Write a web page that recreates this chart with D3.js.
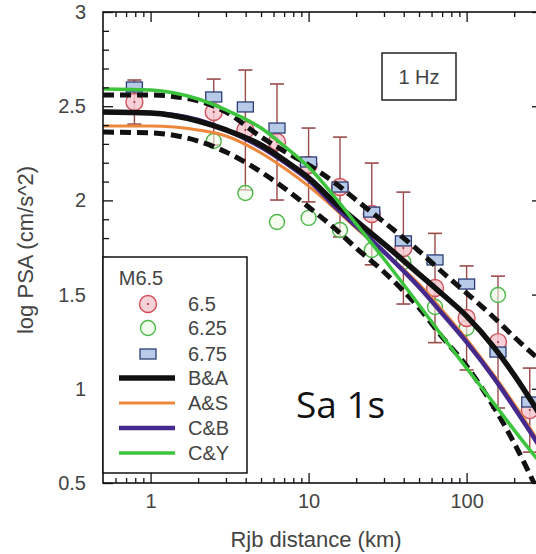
<!DOCTYPE html>
<html><head><meta charset="utf-8">
<script src="https://cdn.jsdelivr.net/npm/d3@7"></script>
<style>html,body{margin:0;padding:0;background:#fff;} svg{display:block;}</style>
</head><body>
<svg id="chart" width="536" height="554"></svg>
<script>
// ---------- data ----------
const curveDist   = [0.5, 1, 2, 3, 5, 7, 10, 15, 20, 30, 50, 70, 100, 150, 200, 300];
const baValues    = [2.469, 2.464, 2.421, 2.374, 2.294, 2.214, 2.119, 1.981, 1.891, 1.769, 1.609, 1.503, 1.386, 1.217, 1.073, 0.845];
const asValues    = [2.395, 2.395, 2.374, 2.342, 2.252, 2.172, 2.076, 1.949, 1.853, 1.726, 1.556, 1.418, 1.264, 1.068, 0.919, 0.691];
const cbValues    = [2.469, 2.464, 2.427, 2.374, 2.283, 2.204, 2.108, 1.960, 1.863, 1.727, 1.540, 1.400, 1.248, 1.054, 0.901, 0.675];
const cyValues    = [2.591, 2.586, 2.538, 2.480, 2.384, 2.289, 2.177, 2.007, 1.875, 1.689, 1.445, 1.280, 1.110, 0.919, 0.781, 0.596];
const upperValues = [2.559, 2.559, 2.528, 2.469, 2.337, 2.262, 2.188, 2.087, 2.002, 1.885, 1.731, 1.620, 1.508, 1.376, 1.275, 1.142];
const lowerValues = [2.363, 2.358, 2.315, 2.257, 2.151, 2.066, 1.965, 1.843, 1.747, 1.620, 1.429, 1.275, 1.121, 0.898, 0.712, 0.410];

const binDist     = [0.79, 2.51, 3.98, 6.31, 10, 15.8, 25.1, 39.8, 63.1, 100, 158, 251];
const m650Values  = [2.522, 2.469, 2.374, 2.310, 2.188, 2.071, 1.928, 1.747, 1.535, 1.376, 1.248, 0.887];
const m650Errors  = [0.117, 0.175, 0.318, 0.308, 0.196, 0.265, 0.270, 0.297, 0.290, 0.276, 0.350, 0.223];
const m625Values  = [null, 2.315, 2.039, 1.885, 1.907, 1.843, 1.737, 1.673, 1.434, 1.323, 1.498, null];
const m675Values  = [2.602, 2.549, 2.496, 2.384, 2.204, 2.071, 1.938, 1.785, 1.684, 1.556, 1.195, 0.930];

const xTickLabels = [1, 10, 100];
const yTickLabels = [0.5, 1, 1.5, 2, 2.5, 3];
const legendTitle = "M6.5";
const legendMarkerLabels = ["6.5", "6.25", "6.75"];
const legendLineLabels = ["B&A", "A&S", "C&B", "C&Y"];

// ---------- setup ----------
const svg = d3.select("#chart");
const L = 103, R = 542, T = 12, B = 483;
const x = d3.scaleLog().domain([0.5, 300]).range([L, R]);
const y = d3.scaleLinear().domain([0.5, 3]).range([B, T]);
const font = "'Liberation Sans', Arial, sans-serif";
const textCol = "#444";

svg.append("rect").attr("width", 536).attr("height", 554).attr("fill", "#fff");
svg.append("clipPath").attr("id", "plotclip").append("rect")
  .attr("x", L).attr("y", T).attr("width", R - L).attr("height", B - T);

// ---------- markers ----------
const errCol = "#9b4a4a";
const mk = svg.append("g").attr("clip-path", "url(#plotclip)");
binDist.forEach((d, i) => {
  const v = m650Values[i], e = m650Errors[i];
  const cx = x(d);
  mk.append("line").attr("x1", cx).attr("x2", cx).attr("y1", y(v + e)).attr("y2", y(v - e))
    .attr("stroke", errCol).attr("stroke-width", 1.4);
  [v + e, v - e].forEach(w => mk.append("line").attr("x1", cx - 7).attr("x2", cx + 7)
    .attr("y1", y(w)).attr("y2", y(w)).attr("stroke", errCol).attr("stroke-width", 1.6));
});
function pinkCircle(g, cx, cy) {
  g.append("circle").attr("cx", cx).attr("cy", cy).attr("r", 8.5)
    .attr("fill", "#f7c8d0").attr("fill-opacity", 0.85).attr("stroke", "#d0505a").attr("stroke-width", 1.4);
  g.append("circle").attr("cx", cx).attr("cy", cy).attr("r", 1).attr("fill", "#a03040");
}
function greenCircle(g, cx, cy) {
  g.append("circle").attr("cx", cx).attr("cy", cy).attr("r", 7.5)
    .attr("fill", "#eefbe8").attr("fill-opacity", 0.6).attr("stroke", "#4cb848").attr("stroke-width", 1.4);
}
function blueRect(g, cx, cy) {
  g.append("rect").attr("x", cx - 8).attr("y", cy - 5).attr("width", 16).attr("height", 10)
    .attr("fill", "#b7cbe9").attr("stroke", "#2c3d75").attr("stroke-width", 1.3);
}
binDist.forEach((d, i) => { if (m625Values[i] != null) greenCircle(mk, x(d), y(m625Values[i])); });
binDist.forEach((d, i) => pinkCircle(mk, x(d), y(m650Values[i])));
binDist.forEach((d, i) => blueRect(mk, x(d), y(m675Values[i])));

// ---------- curves ----------
const line = d3.line().x((d, i) => x(curveDist[i])).y(d => y(d)).curve(d3.curveMonotoneX);
const cg = svg.append("g").attr("clip-path", "url(#plotclip)").attr("fill", "none");
const lineStyles = [
  {vals: lowerValues, col: "#111", w: 5, dash: "11,6"},
  {vals: upperValues, col: "#111", w: 5, dash: "11,6"},
  {vals: asValues, col: "#ec873c", w: 3},
  {vals: cbValues, col: "#45298c", w: 4.5},
  {vals: baValues, col: "#111", w: 5.5},
  {vals: cyValues, col: "#3cc43c", w: 3.5}
];
lineStyles.forEach(s => cg.append("path").attr("d", line(s.vals))
  .attr("stroke", s.col).attr("stroke-width", s.w)
  .attr("stroke-dasharray", s.dash || null).attr("stroke-linecap", "butt"));

// ---------- axes ----------
const xMinor = [];
[0.1, 1, 10, 100].forEach(p => d3.range(2, 10).forEach(k => {
  const v = k * p; if (v > 0.5 && v < 300 && !xTickLabels.includes(v)) xMinor.push(v);
}));
const xMinorSet = Array.from(new Set(xMinor));
const yMinor = d3.range(6, 30).map(k => k / 10).filter(v => Math.abs(v * 2 - Math.round(v * 2)) > 1e-6);

function styleAxis(g) {
  g.select(".domain").remove();
  g.selectAll("line").attr("stroke", "#111").attr("stroke-width", 1.3);
  g.selectAll("text").attr("font-family", font).attr("font-size", 20).attr("fill", textCol);
}
svg.append("g").attr("transform", `translate(0,${B})`)
  .call(d3.axisBottom(x).tickValues(xMinorSet).tickSize(-5).tickFormat("")).call(styleAxis);
svg.append("g").attr("transform", `translate(0,${B})`)
  .call(d3.axisBottom(x).tickValues(xTickLabels).tickSize(-10).tickPadding(11).tickFormat(d3.format("d"))).call(styleAxis);
svg.append("g").attr("transform", `translate(0,${T})`)
  .call(d3.axisTop(x).tickValues(xMinorSet).tickSize(-5).tickFormat("")).call(styleAxis);
svg.append("g").attr("transform", `translate(0,${T})`)
  .call(d3.axisTop(x).tickValues(xTickLabels).tickSize(-10).tickFormat("")).call(styleAxis);
svg.append("g").attr("transform", `translate(${L},0)`)
  .call(d3.axisLeft(y).tickValues(yMinor).tickSize(-6).tickFormat("")).call(styleAxis);
svg.append("g").attr("transform", `translate(${L},0)`)
  .call(d3.axisLeft(y).tickValues(yTickLabels).tickSize(-10).tickPadding(17).tickFormat(d => String(d))).call(styleAxis);
svg.append("g").attr("transform", `translate(${R},0)`)
  .call(d3.axisRight(y).tickValues(yMinor).tickSize(-6).tickFormat("")).call(styleAxis);
svg.append("g").attr("transform", `translate(${R},0)`)
  .call(d3.axisRight(y).tickValues(yTickLabels).tickSize(-10).tickFormat("")).call(styleAxis);

svg.append("rect").attr("x", L).attr("y", T).attr("width", R - L).attr("height", B - T)
  .attr("fill", "none").attr("stroke", "#111").attr("stroke-width", 1.6);

// axis titles
svg.append("text").attr("x", 316).attr("y", 547).attr("text-anchor", "middle")
  .attr("font-family", font).attr("font-size", 22).attr("fill", textCol).text("Rjb distance (km)");
svg.append("text").attr("transform", "translate(33,250) rotate(-90)").attr("text-anchor", "middle")
  .attr("font-family", font).attr("font-size", 22).attr("fill", textCol).text("log PSA (cm/s^2)");

// 1 Hz box
svg.append("rect").attr("x", 382).attr("y", 53).attr("width", 74).attr("height", 47)
  .attr("fill", "#fff").attr("stroke", "#222").attr("stroke-width", 1.5);
svg.append("text").attr("x", 419).attr("y", 84).attr("text-anchor", "middle")
  .attr("font-family", font).attr("font-size", 20).attr("fill", textCol).text("1 Hz");

// Sa 1s
svg.append("text").attr("x", 296).attr("y", 418)
  .attr("font-family", "'Open Sans', 'Noto Sans', sans-serif").attr("font-size", 37).attr("fill", "#111").text("Sa 1s");

// ---------- legend ----------
const lg = svg.append("g");
lg.append("rect").attr("x", L).attr("y", 257).attr("width", 144).attr("height", 216)
  .attr("fill", "#fff").attr("stroke", "#111").attr("stroke-width", 1.5);
lg.append("text").attr("x", 141).attr("y", 285).attr("text-anchor", "middle")
  .attr("font-family", font).attr("font-size", 20).attr("fill", textCol).text(legendTitle);
const markerFns = [pinkCircle, greenCircle, blueRect];
const rowY = [304, 328, 354, 378, 403, 428, 453];
legendMarkerLabels.forEach((lab, i) => {
  markerFns[i](lg, 148, rowY[i]);
  lg.append("text").attr("x", 188).attr("y", rowY[i] + 7).attr("font-family", font)
    .attr("font-size", 20).attr("fill", textCol).text(lab);
});
const legendLineStyles = [lineStyles[4], lineStyles[2], lineStyles[3], lineStyles[5]];
legendLineLabels.forEach((lab, i) => {
  const yy = rowY[i + 3];
  lg.append("line").attr("x1", 119).attr("x2", 175).attr("y1", yy).attr("y2", yy)
    .attr("stroke", legendLineStyles[i].col).attr("stroke-width", legendLineStyles[i].w);
  lg.append("text").attr("x", 188).attr("y", yy + 7).attr("font-family", font)
    .attr("font-size", 20).attr("fill", textCol).text(lab);
});
</script>
</body></html>
